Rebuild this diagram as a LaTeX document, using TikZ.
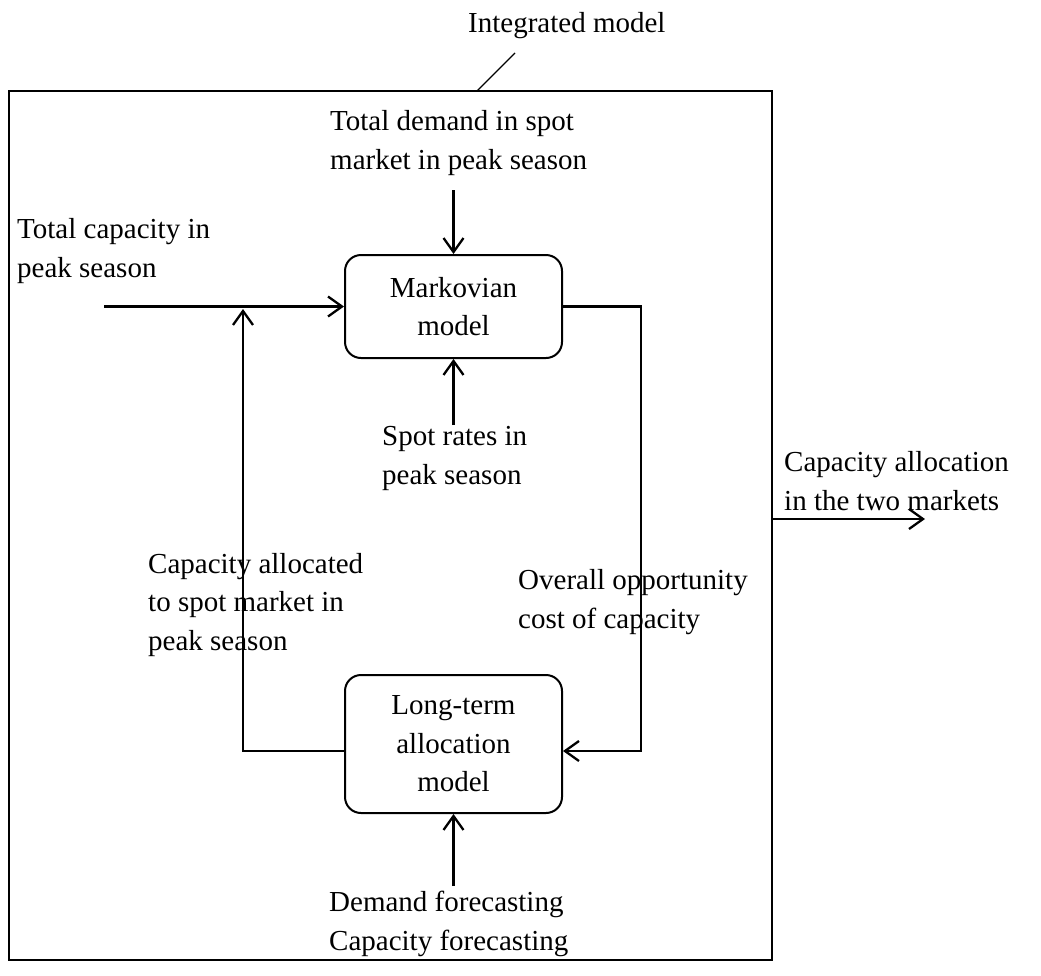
\documentclass[tikz,border=0pt]{standalone}
\usepackage{fontspec}
\setmainfont{Liberation Serif}
\usetikzlibrary{arrows.meta}
\begin{document}
\begin{tikzpicture}[x=1pt,y=-1pt,
  lbl/.style={font=\fontsize{29}{38.5}\selectfont, align=left, inner sep=0pt, anchor=base west},
  model/.style={draw, line width=2pt, rounded corners=16pt, minimum width=217pt, align=center, inner sep=0pt, font=\fontsize{29}{38.5}\selectfont},
  flow/.style={line width=2.3pt, -{Straight Barb[length=14pt,width=20pt]}}]
\useasboundingbox (0,0) rectangle (1041,975);
% outer frame
\node[draw, line width=1.3pt, minimum width=763pt, minimum height=869pt, inner sep=0pt] (frame) at (390.5,525.5) {};
% title
\node[lbl] (title) at (468,32) {Integrated model};
\coordinate (tl1) at (515,53);
\coordinate (tl2) at (477,91);
\draw[line width=1.3pt] (tl1) -- (tl2);
% models
\node[model, minimum height=103pt] (mark) at (453.5,306.5) {Markovian\\model};
\node[model, minimum height=138pt] (lt) at (453.5,744) {Long-term\\allocation\\model};
% labels (anchor = baseline of the last line)
\node[lbl] (tdem) at (330,169) {Total demand in spot\\market in peak season};
\node[lbl] (tcap) at (17,277) {Total capacity in\\peak season};
\node[lbl] (spot) at (382,484) {Spot rates in\\peak season};
\node[lbl] (caloc) at (148,650) {Capacity allocated\\to spot market in\\peak season};
\node[lbl] (overall) at (518,628) {Overall opportunity\\cost of capacity};
\node[lbl] (capout) at (784,510) {Capacity allocation\\in the two markets};
\node[lbl] (fore) at (329,950) {Demand forecasting\\Capacity forecasting};
% coordinates
\coordinate (tdin) at (453.5,190);
\coordinate (tcin) at (104,306.5);
\coordinate (srin) at (453.5,425);
\coordinate (dfin) at (453.5,886);
\coordinate (fbl) at (243,751);
\coordinate (fbtop) at (243,309);
\coordinate (fbr) at (641,751);
\coordinate (out) at (925,519);
% connectors
\draw[flow] (tdin) -- (mark.north);
\draw[flow] (tcin) -- (mark.west);
\draw[flow] (srin) -- (mark.south);
\draw[flow] (dfin) -- (lt.south);
\draw[flow] (lt.west |- fbl) -- (fbl) -- (fbtop);
\draw[flow] (mark.east) -| (fbr) -- (lt.east |- fbr);
\draw[flow] (frame.east |- out) -- (out);
\end{tikzpicture}
\end{document}
